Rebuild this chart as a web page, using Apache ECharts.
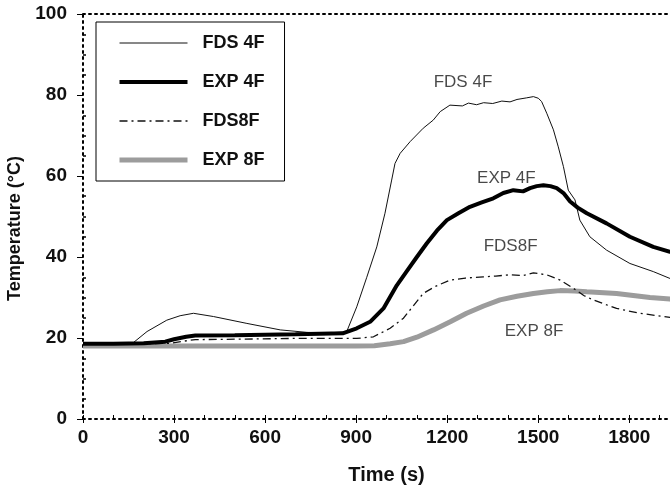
<!DOCTYPE html>
<html>
<head>
<meta charset="utf-8">
<script src="https://cdn.jsdelivr.net/npm/echarts@6/dist/echarts.min.js"></script>
<style>html,body{margin:0;padding:0;background:#fff;}#c{width:670px;height:485px;}</style>
</head>
<body>
<div id="c"></div>
<script>
// ---- data ----
const fds4T = [0,50,100,165,211,276,320,364,430,540,650,737,800,869,902,935,968,995,1017,1028,1045,1078,1121,1154,1177,1209,1250,1270,1297,1320,1350,1380,1407,1430,1462,1484,1500,1511,1528,1550,1566,1583,1599,1621,1637,1670,1725,1802,1879,1934,2000];
const fds4V = [18.8,18.5,18.8,18.8,21.6,24.4,25.5,26.1,25.3,23.6,22.0,21.4,21.2,21.6,27.7,35.0,42.5,50.8,59.0,63.1,65.6,68.5,71.8,73.8,75.9,77.5,77.3,78.0,77.6,78.1,77.9,78.5,78.3,78.9,79.3,79.6,79.2,78.4,75.5,71.4,67.2,62.3,56.5,54.1,49.1,45.0,41.7,38.4,36.4,34.7,33.5];

const exp4T = [0,100,200,271,300,340,370,500,700,858,902,946,990,1034,1067,1100,1133,1166,1199,1237,1275,1314,1352,1385,1418,1450,1473,1495,1517,1540,1561,1583,1605,1630,1660,1725,1802,1879,1934,2000];
const exp4V = [18.6,18.6,18.7,19.1,19.7,20.3,20.6,20.7,20.9,21.2,22.4,24.0,27.3,33.0,36.5,40.0,43.4,46.5,49.1,50.8,52.4,53.5,54.5,55.8,56.5,56.2,57.0,57.5,57.7,57.5,57.0,55.8,53.7,52.2,50.8,48.3,45.0,42.5,41.3,40.5];

const fds8T = [0,100,200,290,330,370,500,700,902,957,1012,1056,1089,1121,1160,1209,1260,1319,1360,1407,1450,1484,1528,1572,1615,1650,1681,1758,1835,1934,2000];
const fds8V = [18.5,18.5,18.6,18.7,19.2,19.6,19.7,19.9,19.9,20.3,22.4,24.9,28.0,31.0,32.7,34.3,34.8,35.1,35.3,35.6,35.4,36.1,35.6,34.3,32.3,30.5,29.4,27.3,26.1,25.1,24.8];

const exp8T = [0,300,600,900,960,1012,1056,1100,1155,1210,1264,1320,1374,1430,1484,1530,1572,1620,1660,1758,1868,1934,2000];
const exp8V = [18.0,18.0,18.0,18.0,18.1,18.6,19.1,20.2,22.0,24.0,26.1,27.9,29.4,30.3,31.0,31.4,31.7,31.6,31.4,31.0,30.0,29.6,29.2];

const seriesNames = ['FDS 4F','EXP 4F','FDS8F','EXP 8F'];
const annotNames = ['FDS 4F','EXP 4F','FDS8F','EXP 8F'];
const annotT = [1252,1395,1409,1486];
const annotV = [83.2,59.5,42.7,21.7];

const xTicks = {min:0, max:2000, interval:300};
const yTicks = {min:0, max:100, interval:20};

function pairs(t, v){ return t.map((x,i)=>[x, v[i]]); }

const chart = echarts.init(document.getElementById('c'), null, {renderer:'canvas'});
const FONT = 'Liberation Sans, Arial, sans-serif';
const dotted = {color:'#000', width:2, type:[2,4]};

const styles = [
  {color:'#111', width:1, type:'solid'},
  {color:'#000', width:4, type:'solid'},
  {color:'#111', width:1.3, type:[8,4,2,4]},
  {color:'#9c9c9c', width:5, type:'solid'}
];

const option = {
  backgroundColor:'#fff',
  animation:false,
  grid:{left:83, right:-20, top:14, bottom:66, containLabel:false, outerBoundsMode:'none'},
  legend:{
    orient:'vertical', left:96, top:22,
    data:seriesNames.map((n,i)=>({name:n, lineStyle:{width:styles[i].width, type:styles[i].type, color:styles[i].color}})),
    backgroundColor:'#fff', borderColor:'#000', borderWidth:1, borderRadius:0,
    padding:[12,20,12,21],
    itemWidth:68, itemHeight:14, itemGap:21,
    itemStyle:{opacity:0},
    textStyle:{fontFamily:FONT, fontSize:18, fontWeight:'bold', color:'#111', padding:[0,0,0,10]}
  },
  xAxis:[
    {type:'value', min:xTicks.min, max:xTicks.max, interval:xTicks.interval, position:'bottom',
     name:'Time (s)', nameLocation:'middle', nameGap:46,
     nameTextStyle:{fontFamily:FONT, fontSize:20, fontWeight:'bold', color:'#111'},
     axisLine:{show:true, onZero:false, lineStyle:dotted},
     axisTick:{show:true, length:4, lineStyle:{color:'#000', width:1}},
     axisLabel:{fontFamily:FONT, fontSize:19, fontWeight:'bold', color:'#111', margin:9, showMaxLabel:false,
                formatter:v=>String(v)},
     splitLine:{show:false}},
    {type:'value', min:xTicks.min, max:xTicks.max, interval:xTicks.interval, position:'bottom',
     axisLine:{show:false}, axisLabel:{show:false},
     axisTick:{show:true, inside:true, length:4, lineStyle:{color:'#000', width:1}},
     minorTick:{show:true, splitNumber:3, length:4, lineStyle:{color:'#000', width:1}},
     splitLine:{show:false}},
    {type:'value', min:xTicks.min, max:xTicks.max, position:'top',
     axisLine:{show:true, onZero:false, lineStyle:dotted},
     axisTick:{show:false}, axisLabel:{show:false}, splitLine:{show:false}}
  ],
  yAxis:[
    {type:'value', min:yTicks.min, max:yTicks.max, interval:yTicks.interval, position:'left',
     name:'Temperature (°C)', nameLocation:'middle', nameGap:49, nameRotate:90,
     nameTextStyle:{fontFamily:FONT, fontSize:18, fontWeight:'bold', color:'#111', padding:[0,24,8,0]},
     axisLine:{show:true, onZero:false, lineStyle:dotted},
     axisTick:{show:true, length:6, lineStyle:{color:'#000', width:1}},
     axisLabel:{fontFamily:FONT, fontSize:19, fontWeight:'bold', color:'#111', margin:16},
     splitLine:{show:false}},
    {type:'value', min:yTicks.min, max:yTicks.max, interval:yTicks.interval, position:'left',
     axisLine:{show:false}, axisLabel:{show:false},
     axisTick:{show:false, inside:true},
     minorTick:{show:true, splitNumber:4, length:3, lineStyle:{color:'#000', width:1.5}},
     splitLine:{show:false}}
  ],
  series:[
    {name:seriesNames[0], type:'line', data:pairs(fds4T,fds4V), symbol:'none', z:4,
     lineStyle:styles[0], itemStyle:{color:styles[0].color}},
    {name:seriesNames[1], type:'line', data:pairs(exp4T,exp4V), symbol:'none', z:5,
     lineStyle:styles[1], itemStyle:{color:styles[1].color}},
    {name:seriesNames[2], type:'line', data:pairs(fds8T,fds8V), symbol:'none', z:3,
     lineStyle:styles[2], itemStyle:{color:styles[2].color}},
    {name:seriesNames[3], type:'line', data:pairs(exp8T,exp8V), symbol:'none', z:2,
     lineStyle:styles[3], itemStyle:{color:styles[3].color}},
    {name:'annotations', type:'scatter', symbolSize:0, z:6, silent:true,
     data:annotT.map((t,i)=>({value:[t, annotV[i]], name:annotNames[i]})),
     label:{show:true, position:'inside', formatter:p=>p.name,
            fontFamily:FONT, fontSize:17, color:'#1a1a1a'}}
  ]
};
chart.setOption(option);
</script>
</body>
</html>
